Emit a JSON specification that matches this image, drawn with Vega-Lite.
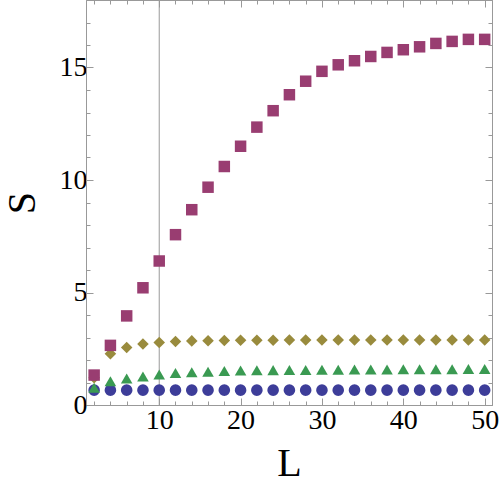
{
  "$schema": "https://vega.github.io/schema/vega-lite/v6.json",
  "autosize": "none",
  "width": 406,
  "height": 405,
  "padding": {"left": 86, "top": 0, "right": 8, "bottom": 88},
  "background": "white",
  "config": {"view": {"stroke": "#999", "strokeWidth": 1}},
  "datasets": {
    "pts": [
      {"L": 2, "series": "d", "S": 0.66}, {"L": 4, "series": "d", "S": 0.66}, {"L": 6, "series": "d", "S": 0.66}, {"L": 8, "series": "d", "S": 0.66}, {"L": 10, "series": "d", "S": 0.66},
      {"L": 12, "series": "d", "S": 0.66}, {"L": 14, "series": "d", "S": 0.66}, {"L": 16, "series": "d", "S": 0.66}, {"L": 18, "series": "d", "S": 0.66}, {"L": 20, "series": "d", "S": 0.66},
      {"L": 22, "series": "d", "S": 0.66}, {"L": 24, "series": "d", "S": 0.66}, {"L": 26, "series": "d", "S": 0.66}, {"L": 28, "series": "d", "S": 0.66}, {"L": 30, "series": "d", "S": 0.66},
      {"L": 32, "series": "d", "S": 0.66}, {"L": 34, "series": "d", "S": 0.66}, {"L": 36, "series": "d", "S": 0.66}, {"L": 38, "series": "d", "S": 0.66}, {"L": 40, "series": "d", "S": 0.66},
      {"L": 42, "series": "d", "S": 0.66}, {"L": 44, "series": "d", "S": 0.66}, {"L": 46, "series": "d", "S": 0.66}, {"L": 48, "series": "d", "S": 0.66}, {"L": 50, "series": "d", "S": 0.66},

      {"L": 2, "series": "c", "S": 0.77}, {"L": 4, "series": "c", "S": 1.06}, {"L": 6, "series": "c", "S": 1.18}, {"L": 8, "series": "c", "S": 1.27}, {"L": 10, "series": "c", "S": 1.36},
      {"L": 12, "series": "c", "S": 1.42}, {"L": 14, "series": "c", "S": 1.46}, {"L": 16, "series": "c", "S": 1.48}, {"L": 18, "series": "c", "S": 1.51}, {"L": 20, "series": "c", "S": 1.53},
      {"L": 22, "series": "c", "S": 1.54}, {"L": 24, "series": "c", "S": 1.55}, {"L": 26, "series": "c", "S": 1.56}, {"L": 28, "series": "c", "S": 1.56}, {"L": 30, "series": "c", "S": 1.57},
      {"L": 32, "series": "c", "S": 1.57}, {"L": 34, "series": "c", "S": 1.58}, {"L": 36, "series": "c", "S": 1.58}, {"L": 38, "series": "c", "S": 1.58}, {"L": 40, "series": "c", "S": 1.59},
      {"L": 42, "series": "c", "S": 1.59}, {"L": 44, "series": "c", "S": 1.59}, {"L": 46, "series": "c", "S": 1.59}, {"L": 48, "series": "c", "S": 1.6}, {"L": 50, "series": "c", "S": 1.6},

      {"L": 2, "series": "b", "S": 1.21}, {"L": 4, "series": "b", "S": 2.28}, {"L": 6, "series": "b", "S": 2.56}, {"L": 8, "series": "b", "S": 2.71}, {"L": 10, "series": "b", "S": 2.78},
      {"L": 12, "series": "b", "S": 2.82}, {"L": 14, "series": "b", "S": 2.85}, {"L": 16, "series": "b", "S": 2.86}, {"L": 18, "series": "b", "S": 2.87}, {"L": 20, "series": "b", "S": 2.88},
      {"L": 22, "series": "b", "S": 2.88}, {"L": 24, "series": "b", "S": 2.88}, {"L": 26, "series": "b", "S": 2.89}, {"L": 28, "series": "b", "S": 2.89}, {"L": 30, "series": "b", "S": 2.89},
      {"L": 32, "series": "b", "S": 2.89}, {"L": 34, "series": "b", "S": 2.89}, {"L": 36, "series": "b", "S": 2.89}, {"L": 38, "series": "b", "S": 2.89}, {"L": 40, "series": "b", "S": 2.89},
      {"L": 42, "series": "b", "S": 2.89}, {"L": 44, "series": "b", "S": 2.89}, {"L": 46, "series": "b", "S": 2.89}, {"L": 48, "series": "b", "S": 2.89}, {"L": 50, "series": "b", "S": 2.89},

      {"L": 2, "series": "a", "S": 1.33}, {"L": 4, "series": "a", "S": 2.65}, {"L": 6, "series": "a", "S": 3.96}, {"L": 8, "series": "a", "S": 5.21}, {"L": 10, "series": "a", "S": 6.4},
      {"L": 12, "series": "a", "S": 7.57}, {"L": 14, "series": "a", "S": 8.68}, {"L": 16, "series": "a", "S": 9.68}, {"L": 18, "series": "a", "S": 10.6}, {"L": 20, "series": "a", "S": 11.5},
      {"L": 22, "series": "a", "S": 12.35}, {"L": 24, "series": "a", "S": 13.08}, {"L": 26, "series": "a", "S": 13.79}, {"L": 28, "series": "a", "S": 14.39}, {"L": 30, "series": "a", "S": 14.83},
      {"L": 32, "series": "a", "S": 15.12}, {"L": 34, "series": "a", "S": 15.3}, {"L": 36, "series": "a", "S": 15.49}, {"L": 38, "series": "a", "S": 15.67}, {"L": 40, "series": "a", "S": 15.79},
      {"L": 42, "series": "a", "S": 15.92}, {"L": 44, "series": "a", "S": 16.07}, {"L": 46, "series": "a", "S": 16.16}, {"L": 48, "series": "a", "S": 16.25}, {"L": 50, "series": "a", "S": 16.25}
    ]
  },
  "layer": [
    {
      "data": {"values": [{"L": 10}]},
      "mark": {"type": "rule", "color": "#999", "strokeWidth": 1},
      "encoding": {
        "x": {
          "field": "L", "type": "quantitative",
          "scale": {"domain": [1, 50.9], "nice": false, "zero": false},
          "axis": {
            "orient": "top", "title": null, "labels": false, "grid": false,
            "values": [2, 4, 6, 8, 10, 12, 14, 16, 18, 20, 22, 24, 26, 28, 30, 32, 34, 36, 38, 40, 42, 44, 46, 48, 50],
            "tickSize": {"condition": {"test": "datum.value % 10 === 0", "value": -7}, "value": -4},
            "tickColor": "#999", "domainColor": "#999"
          }
        }
      }
    },
    {
      "data": {"name": "pts"},
      "mark": {"type": "point", "filled": true, "opacity": 1},
      "encoding": {
        "x": {
          "field": "L", "type": "quantitative",
          "scale": {"domain": [1, 50.9], "nice": false, "zero": false},
          "axis": {
            "orient": "bottom", "title": "L", "grid": false,
            "values": [2, 4, 6, 8, 10, 12, 14, 16, 18, 20, 22, 24, 26, 28, 30, 32, 34, 36, 38, 40, 42, 44, 46, 48, 50],
            "labelExpr": "datum.value % 10 === 0 ? datum.label : ''",
            "tickSize": {"condition": {"test": "datum.value % 10 === 0", "value": -7}, "value": -4},
            "tickColor": "#999", "domainColor": "#999",
            "labelFont": "Liberation Serif", "labelFontSize": 28, "labelColor": "black", "labelPadding": 8,
            "labelFlush": false, "labelOverlap": false,
            "titleFont": "Liberation Serif", "titleFontSize": 40, "titleFontWeight": "normal", "titleColor": "black", "titlePadding": 6
          }
        },
        "y": {
          "field": "S", "type": "quantitative",
          "scale": {"domain": [0, 18], "nice": false},
          "axis": {
            "orient": "left", "title": "S", "grid": false,
            "values": [0, 1, 2, 3, 4, 5, 6, 7, 8, 9, 10, 11, 12, 13, 14, 15, 16, 17],
            "labelExpr": "datum.value % 5 === 0 ? datum.label : ''",
            "tickSize": {"condition": {"test": "datum.value % 5 === 0", "value": -7}, "value": -4},
            "tickColor": "#999", "domainColor": "#999",
            "labelFont": "Liberation Serif", "labelFontSize": 28, "labelColor": "black", "labelPadding": 6,
            "labelFlush": false, "labelOverlap": false,
            "titleFont": "Liberation Serif", "titleFontSize": 40, "titleFontWeight": "normal", "titleColor": "black", "titlePadding": 17
          }
        },
        "shape": {
          "field": "series", "type": "nominal", "legend": null,
          "scale": {"domain": ["a", "b", "c", "d"], "range": ["square", "diamond", "triangle-up", "circle"]}
        },
        "color": {
          "field": "series", "type": "nominal", "legend": null,
          "scale": {"domain": ["a", "b", "c", "d"], "range": ["#993d71", "#998b3d", "#3a9a52", "#3d3d99"]}
        },
        "size": {
          "field": "series", "type": "nominal", "legend": null,
          "scale": {"domain": ["a", "b", "c", "d"], "range": [132, 135, 120, 158]}
        }
      }
    },
    {
      "data": {"name": "pts"},
      "mark": {"type": "point", "opacity": 0},
      "encoding": {
        "y": {
          "field": "S", "type": "quantitative",
          "scale": {"domain": [0, 18], "nice": false},
          "axis": {
            "orient": "right", "title": null, "labels": false, "grid": false,
            "values": [0, 1, 2, 3, 4, 5, 6, 7, 8, 9, 10, 11, 12, 13, 14, 15, 16, 17],
            "tickSize": {"condition": {"test": "datum.value % 5 === 0", "value": -7}, "value": -4},
            "tickColor": "#999", "domainColor": "#999"
          }
        }
      }
    }
  ],
  "resolve": {"axis": {"x": "independent", "y": "independent"}}
}
